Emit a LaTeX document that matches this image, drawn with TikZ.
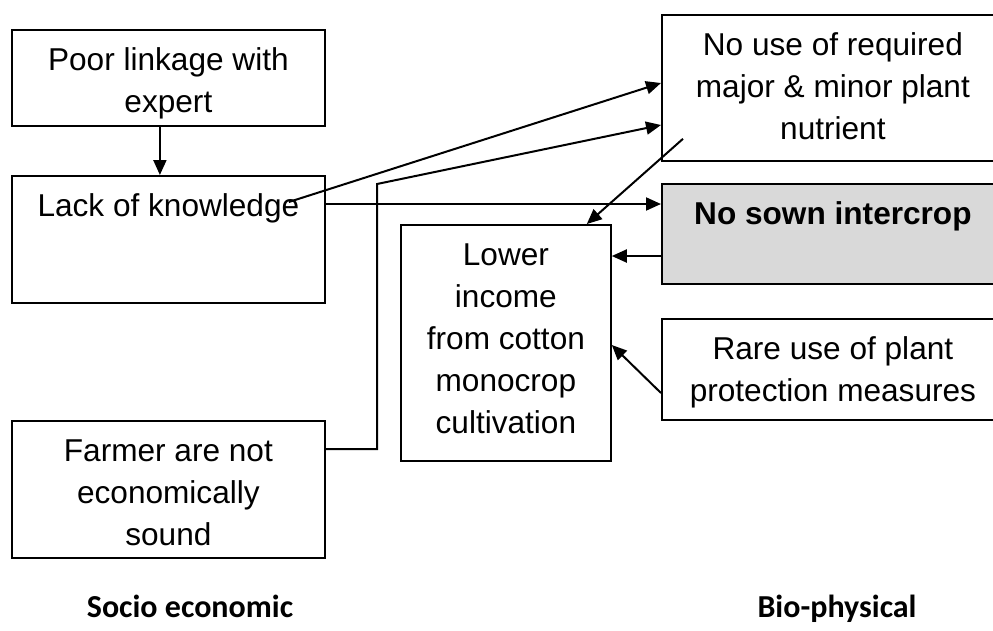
\documentclass[tikz,border=0pt]{standalone}
\usepackage{fontspec}
\setmainfont{Liberation Sans}
\newfontfamily\headfont{Carlito}
\usetikzlibrary{arrows.meta}
\definecolor{cropgray}{HTML}{D9D9D9}
\newcommand{\boxtext}[3]{\parbox[c][#2][t]{#1}{\centering\rule{0pt}{41pt}#3}}

\begin{document}
\begin{tikzpicture}[x=1pt,y=-1pt,
	cause/.style={draw, line width=1.8pt, inner sep=0pt, anchor=north west,
		font=\fontsize{31.6}{42}\selectfont},
	arr/.style={line width=2pt, -{Triangle[length=15pt,width=13pt]}},
	head/.style={anchor=base, font=\headfont\bfseries\fontsize{32}{38}\selectfont}]
	\useasboundingbox (0,0) rectangle (993,630);
	% socio economic side
	\node[cause] (poor) at (11,29) {\boxtext{313pt}{96pt}{Poor linkage with\\expert}};
	\node[cause] (lack) at (11,175) {\boxtext{313pt}{127pt}{Lack of knowledge}};
	\node[cause] (farmer) at (11,420) {\boxtext{313pt}{137pt}{Farmer are not\\economically\\sound}};
	% effect
	\node[cause] (lower) at (400,224) {\boxtext{210pt}{236pt}{Lower\\income\\from cotton\\monocrop\\cultivation}};
	% bio-physical side
	\node[cause] (nouse) at (661,14) {\boxtext{342pt}{146pt}{No use of required\\major \& minor plant\\nutrient}};
	\node[cause, fill=cropgray] (nosown) at (661,183) {\boxtext{342pt}{100pt}{\bfseries No sown intercrop}};
	\node[cause] (rare) at (661,318) {\boxtext{342pt}{101pt}{Rare use of plant\\protection measures}};

	\draw[arr] ([xshift=-8.5pt]poor.south) -- ([xshift=-8.5pt]lack.north);
	\coordinate (know) at ([xshift=-37pt,yshift=-27pt]lack.north east);
	\draw[arr] (know) -- ([yshift=-69pt]nouse.north west);
	\coordinate (k) at ([yshift=-29pt]lack.north east);
	\draw[arr] (k) -- (k -| nosown.west);
	\coordinate (bend) at (377,184);
	\draw[arr] ([yshift=-29pt]farmer.north east) -| (bend) -- ([yshift=-111pt]nouse.north west);
	\draw[arr] ([xshift=22pt,yshift=23pt]nouse.south west) -- ([xshift=-25pt]lower.north east);
	\coordinate (s) at ([yshift=-73pt]nosown.north west);
	\draw[arr] (s) -- (s -| lower.east);
	\draw[arr] ([yshift=-75pt]rare.north west) -- ([yshift=-121pt]lower.north east);

	\node[head] (socio) at (190,617) {Socio economic};
	\node[head] (bio) at (837,617) {Bio-physical};
\end{tikzpicture}
\end{document}
